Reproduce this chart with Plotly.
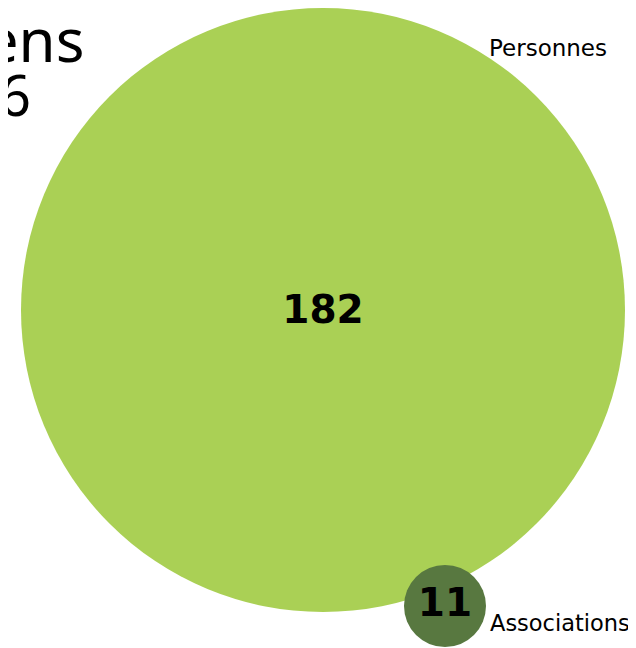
import plotly.graph_objects as go

# ---- data ----
categories = ["Personnes", "Associations"]
values = [182, 11]
title_lines = ["Citoyens", "2016"]

# ---- layout / style constants (page-pixel space; page body has an 8px margin) ----
W, H = 636, 648
OFF = 8
centers_x = [323, 445]
centers_y = [310, 606]
label_centers_y = [313, 606]
diameters = [604, 82]
colors = ["#AAD055", "#587840"]
label_pos = [(487, 48), (488, 623)]
label_sizes = [23, 22.5]

fig = go.Figure()
fig.add_trace(go.Scatter(
    x=centers_x, y=centers_y,
    mode="markers",
    marker=dict(size=diameters, sizemode="diameter", color=colors,
                line=dict(width=0), opacity=1),
    hoverinfo="skip",
    showlegend=False,
    cliponaxis=False,
))
fig.add_trace(go.Scatter(
    x=centers_x, y=label_centers_y,
    mode="text",
    text=[f"<b>{v}</b>" for v in values],
    textposition="middle center",
    textfont=dict(family="DejaVu Sans", size=39, color="#000000"),
    hoverinfo="skip",
    showlegend=False,
    cliponaxis=False,
))

for cat, (lx, ly), fs in zip(categories, label_pos, label_sizes):
    fig.add_annotation(x=lx, y=ly, xref="x", yref="y", text=cat,
                       showarrow=False, xanchor="left", yanchor="middle",
                       font=dict(family="DejaVu Sans", size=fs, color="#000000"))

# clipped title on the left edge
fig.add_annotation(x=86, y=82, xref="x", yref="y", text=title_lines[0],
                   showarrow=False, xanchor="right", yanchor="bottom",
                   font=dict(family="Noto Sans", size=60, color="#000000"))
fig.add_annotation(x=33, y=134, xref="x", yref="y", text=title_lines[1],
                   showarrow=False, xanchor="right", yanchor="bottom",
                   font=dict(family="Noto Sans", size=56, color="#000000"))

fig.update_xaxes(range=[OFF, W + OFF], visible=False, fixedrange=True)
fig.update_yaxes(range=[H + OFF, OFF], visible=False, fixedrange=True)
fig.update_layout(width=W, height=H, margin=dict(l=0, r=0, t=0, b=0),
                  paper_bgcolor="white", plot_bgcolor="white")

fig.write_html("out.html")
